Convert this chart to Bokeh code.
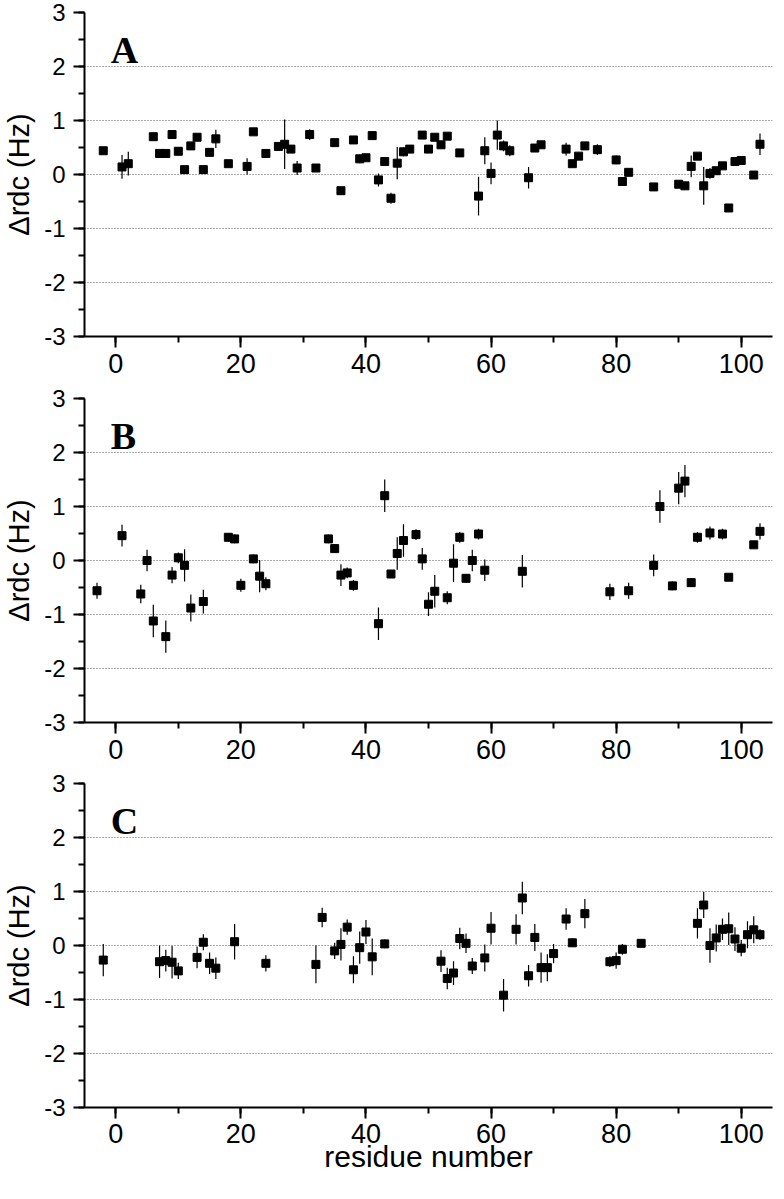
from bokeh.plotting import figure
from bokeh.layouts import column
from bokeh.models import SingleIntervalTicker, FixedTicker, Range1d, Label, ColumnDataSource
from bokeh.embed import file_html
from bokeh.resources import INLINE

# ---- data: panel A ----
a_res = [-2, 1, 2, 6, 7, 8, 9, 10, 11, 12, 13, 14, 15, 16, 18, 21, 22, 24, 26, 27, 28, 29, 31, 32,
         35, 36, 38, 39, 40, 41, 42, 43, 44, 45, 46, 47, 49, 50, 51, 52, 53, 55, 58, 59, 60, 61,
         62, 63, 66, 67, 68, 72, 73, 74, 75, 77, 80, 81, 82, 86, 90, 91, 92, 93, 94, 95, 96, 97,
         98, 99, 100, 102, 103]
a_val = [0.44, 0.14, 0.20, 0.70, 0.39, 0.39, 0.74, 0.43, 0.09, 0.53, 0.69, 0.09, 0.41, 0.66, 0.20,
         0.15, 0.79, 0.39, 0.52, 0.56, 0.47, 0.12, 0.74, 0.12, 0.59, -0.30, 0.64, 0.29, 0.31, 0.72,
         -0.10, 0.24, -0.44, 0.21, 0.42, 0.47, 0.73, 0.47, 0.69, 0.55, 0.71, 0.40, -0.40, 0.44, 0.02,
         0.73, 0.53, 0.44, -0.06, 0.49, 0.55, 0.47, 0.20, 0.34, 0.53, 0.46, 0.27, -0.13, 0.04, -0.23,
         -0.18, -0.21, 0.15, 0.34, -0.21, 0.02, 0.07, 0.16, -0.62, 0.24, 0.26, -0.01, 0.56]
a_err = [0.04, 0.22, 0.22, 0.04, 0.06, 0.04, 0.08, 0.04, 0.04, 0.04, 0.05, 0.04, 0.04, 0.17, 0.04,
         0.15, 0.04, 0.04, 0.05, 0.46, 0.05, 0.13, 0.10, 0.04, 0.04, 0.07, 0.05, 0.08, 0.06, 0.04,
         0.12, 0.04, 0.10, 0.30, 0.08, 0.07, 0.04, 0.04, 0.04, 0.04, 0.04, 0.04, 0.36, 0.25, 0.20,
         0.27, 0.10, 0.10, 0.20, 0.05, 0.06, 0.12, 0.04, 0.04, 0.04, 0.10, 0.08, 0.08, 0.04, 0.07,
         0.05, 0.07, 0.20, 0.04, 0.35, 0.10, 0.07, 0.04, 0.05, 0.04, 0.04, 0.04, 0.20]

# ---- data: panel B ----
b_res = [-3, 1, 4, 5, 6, 8, 9, 10, 11, 12, 14, 18, 19, 20, 22, 23, 24, 34, 35, 36, 37, 38, 42, 43,
         44, 45, 46, 48, 49, 50, 51, 53, 54, 55, 56, 57, 58, 59, 65, 79, 82, 86, 87, 89, 90, 91,
         92, 93, 95, 97, 98, 102, 103]
b_val = [-0.56, 0.46, -0.62, 0.00, -1.12, -1.41, -0.27, 0.05, -0.09, -0.88, -0.76, 0.43, 0.40,
         -0.46, 0.03, -0.29, -0.43, 0.40, 0.22, -0.27, -0.23, -0.46, -1.17, 1.20, -0.25, 0.13,
         0.37, 0.48, 0.03, -0.81, -0.57, -0.69, -0.05, 0.43, -0.33, 0.00, 0.49, -0.18, -0.20,
         -0.58, -0.56, -0.09, 1.00, -0.47, 1.34, 1.47, -0.41, 0.43, 0.51, 0.49, -0.31, 0.29, 0.54]
b_err = [0.15, 0.20, 0.17, 0.20, 0.30, 0.30, 0.15, 0.10, 0.30, 0.25, 0.22, 0.08, 0.08, 0.12, 0.08,
         0.30, 0.12, 0.08, 0.08, 0.20, 0.10, 0.10, 0.30, 0.30, 0.06, 0.30, 0.30, 0.10, 0.20, 0.22,
         0.30, 0.12, 0.35, 0.10, 0.08, 0.20, 0.10, 0.20, 0.30, 0.15, 0.15, 0.20, 0.30, 0.08, 0.30,
         0.30, 0.08, 0.10, 0.12, 0.10, 0.06, 0.05, 0.15]

# ---- data: panel C ----
c_res = [-2, 7, 8, 9, 10, 13, 14, 15, 16, 19, 24, 32, 33, 35, 36, 37, 38, 39, 40, 41, 43, 52, 53,
         54, 55, 56, 57, 59, 60, 62, 64, 65, 66, 67, 68, 69, 70, 72, 73, 75, 79, 80, 81, 84, 93,
         94, 95, 96, 97, 98, 99, 100, 101, 102, 103]
c_val = [-0.27, -0.30, -0.28, -0.31, -0.47, -0.22, 0.06, -0.33, -0.42, 0.07, -0.33, -0.35, 0.52,
         -0.10, 0.02, 0.34, -0.45, -0.04, 0.25, -0.21, 0.03, -0.29, -0.61, -0.51, 0.13, 0.04,
         -0.38, -0.23, 0.32, -0.92, 0.30, 0.88, -0.56, 0.15, -0.41, -0.41, -0.15, 0.49, 0.05, 0.59,
         -0.30, -0.28, -0.07, 0.04, 0.41, 0.75, 0.00, 0.14, 0.30, 0.31, 0.12, -0.05, 0.20, 0.29, 0.20]
c_err = [0.30, 0.30, 0.20, 0.30, 0.15, 0.20, 0.15, 0.20, 0.20, 0.33, 0.15, 0.35, 0.18, 0.15, 0.30,
         0.14, 0.25, 0.30, 0.22, 0.34, 0.08, 0.20, 0.20, 0.22, 0.20, 0.18, 0.15, 0.25, 0.30, 0.30,
         0.28, 0.30, 0.20, 0.25, 0.28, 0.25, 0.18, 0.20, 0.08, 0.27, 0.10, 0.15, 0.10, 0.06, 0.28,
         0.24, 0.32, 0.25, 0.20, 0.30, 0.22, 0.15, 0.25, 0.25, 0.10]

panel_letters = ["A", "B", "C"]
x_label = "residue number"
y_label = "\u0394rdc (Hz)"
y_tick_text = {-3: "-3", -2: "-2", -1: "-1", 0: "0", 1: "1", 2: "2", 3: "3"}

SANS = "Liberation Sans"
SERIF = "Liberation Serif"


def make_panel(res, val, err, letter, bottom_border, last):
    p = figure(frame_width=688, frame_height=324,
               x_range=Range1d(-5, 105), y_range=Range1d(-3, 3),
               output_backend="svg", toolbar_location=None,
               min_border_left=81, min_border_right=6,
               min_border_top=12, min_border_bottom=bottom_border)
    p.outline_line_color = None
    p.background_fill_color = "white"
    p.xgrid.visible = False
    p.ygrid.ticker = FixedTicker(ticks=[-2, -1, 0, 1, 2])
    p.ygrid.grid_line_color = "#555555"
    p.ygrid.grid_line_dash = "1 2"
    p.ygrid.grid_line_width = 1

    p.xaxis.ticker = SingleIntervalTicker(interval=20, num_minor_ticks=2)
    p.yaxis.ticker = SingleIntervalTicker(interval=1, num_minor_ticks=2)
    for ax in (p.xaxis[0], p.yaxis[0]):
        ax.axis_line_width = 2
        ax.axis_line_color = "black"
        ax.major_tick_line_width = 2
        ax.minor_tick_line_width = 2
        ax.major_tick_line_color = "black"
        ax.minor_tick_line_color = "black"
        ax.major_tick_out = 11
        ax.major_tick_in = 0
        ax.minor_tick_out = 6
        ax.minor_tick_in = 0
        ax.major_label_text_font = SANS
        ax.major_label_text_color = "black"
        ax.axis_label_text_font = SANS
        ax.axis_label_text_font_style = "normal"
        ax.axis_label_text_color = "black"
    p.yaxis.major_label_overrides = y_tick_text
    p.yaxis.major_label_text_font_size = "24px"
    p.yaxis.axis_label_text_font_size = "29px"
    p.yaxis.axis_label = y_label
    p.yaxis.major_label_standoff = 8
    p.yaxis.axis_label_standoff = 6
    p.xaxis.major_label_text_font_size = "27px"
    p.xaxis.major_label_standoff = 6
    if last:
        p.xaxis.major_label_standoff = 5
        p.xaxis.axis_label = x_label
        p.xaxis.axis_label_text_font_size = "30px"
        p.xaxis.axis_label_standoff = -6

    src = ColumnDataSource(dict(x=res, y=val,
                                lo=[v - e for v, e in zip(val, err)],
                                hi=[v + e for v, e in zip(val, err)]))
    p.segment(x0="x", y0="lo", x1="x", y1="hi", source=src, line_color="black", line_width=1.2)
    p.scatter(x="x", y="y", source=src, marker="square", size=8,
              fill_color="black", line_color="black")

    p.add_layout(Label(x=-0.8, y=2.3, text=letter, text_font=SERIF, text_font_style="bold",
                       text_font_size="38px", text_color="black", text_baseline="alphabetic"))
    return p


pa = make_panel(a_res, a_val, a_err, panel_letters[0], 50, False)
pb = make_panel(b_res, b_val, b_err, panel_letters[1], 49, False)
pc = make_panel(c_res, c_val, c_err, panel_letters[2], 75, True)

layout = column(pa, pb, pc, spacing=0)
open("out.html", "w").write(file_html(layout, INLINE))
